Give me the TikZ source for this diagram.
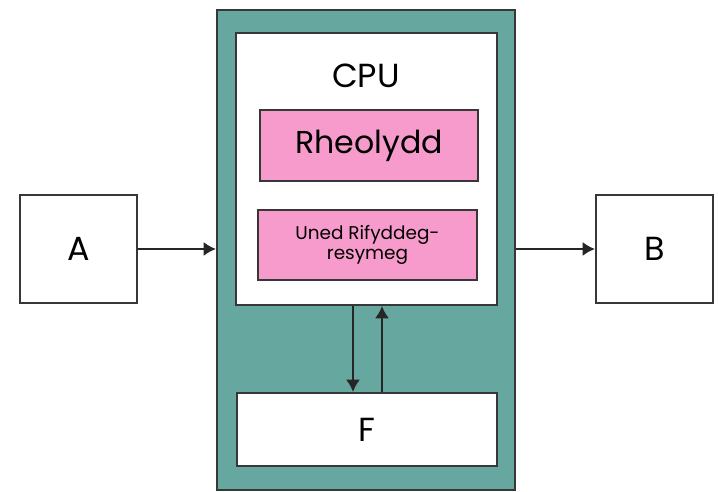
\documentclass[tikz,border=0pt]{standalone}
\usepackage{fontspec}
\setmainfont{Poppins}
\usetikzlibrary{arrows.meta}
\definecolor{cputeal}{RGB}{102,168,160}
\definecolor{unitpink}{RGB}{247,155,204}
\definecolor{edgegray}{RGB}{55,55,55}

\begin{document}
\begin{tikzpicture}[x=0.02cm, y=-0.02cm,
  every node/.style={font=\fontsize{19}{23}\selectfont},
  box/.style={draw=edgegray, line width=1.2pt, fill=white, inner sep=0pt},
  unit/.style={box, fill=unitpink, align=center},
  arr/.style={line width=1.1pt, black!85, -{Latex[length=7pt, width=8pt]}}]
  \useasboundingbox (0,0) rectangle (718,492);
  % processor casing with the CPU and memory inside
  \node[box, fill=cputeal, minimum width=5.96cm, minimum height=9.6cm] (casing) at (366,250) {};
  \node[box, minimum width=5.22cm, minimum height=5.44cm] (cpu) at (366.5,169) {};
  \node (cpulbl) at (366,76) {CPU};
  \node[unit, minimum width=4.36cm, minimum height=1.42cm,
    font=\fontsize{18}{22}\selectfont] (ctrl) at (369,145.5) {Rheolydd};
  \node[unit, minimum width=4.38cm, minimum height=1.4cm,
    font=\fontsize{10.5}{11.5}\selectfont] (alu) at (367.5,245) {Uned Rifyddeg-\\resymeg};
  \node[box, minimum width=5.2cm, minimum height=1.46cm] (mem) at (367,429.5) {F};
  % input and output
  \node[box, minimum width=2.34cm, minimum height=2.16cm] (a) at (78.5,249) {A};
  \node[box, minimum width=2.34cm, minimum height=2.16cm] (b) at (654.5,249) {B};
  \draw[arr] (a.east) -- (casing.west |- a.east);
  \draw[arr] (casing.east |- b.west) -- (b.west);
  \draw[arr] ([xshift=-0.27cm]cpu.south) -- ([xshift=-0.27cm]cpu.south |- mem.north);
  \draw[arr] ([xshift=0.31cm]cpu.south |- mem.north) -- ([xshift=0.31cm]cpu.south);
\end{tikzpicture}
\end{document}
